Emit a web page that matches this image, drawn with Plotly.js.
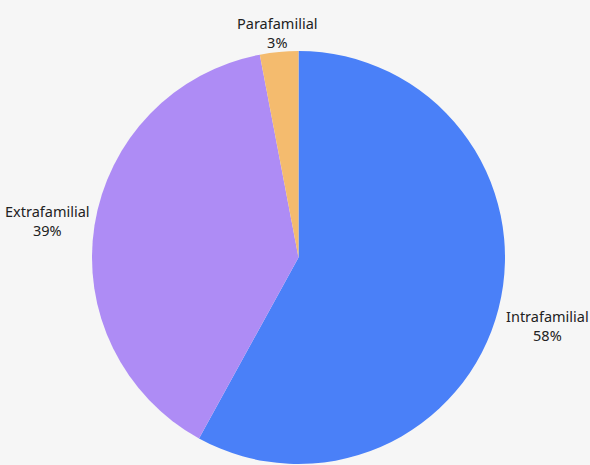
<!DOCTYPE html>
<html>
<head>
<meta charset="utf-8">
<script src="https://cdn.plot.ly/plotly-3.0.1.min.js"></script>
<style>html,body{margin:0;padding:0;background:#f6f6f6;}</style>
</head>
<body>
<div id="chart" style="width:590px;height:465px;"></div>
<script>
const categories = ["Intrafamilial", "Extrafamilial", "Parafamilial"];
const values = [58, 39, 3];
const colors = ["#4a80f8", "#ae8cf5", "#f4bb6e"];

const FONT = "Noto Sans, sans-serif";
const total = values.reduce((a, b) => a + b, 0);

// Outside labels placed at each slice's mid-angle (clockwise from 12 o'clock)
const annotations = [];
let cum = 0;
values.forEach((v, i) => {
  const mid = (cum + v / 2) / total * 2 * Math.PI;
  cum += v;
  const ax = Math.sin(mid), ay = Math.cos(mid);
  const xanchor = ax > 0.5 ? "left" : (ax < -0.5 ? "right" : "center");
  const yanchor = ay > 0.5 ? "bottom" : (ay < -0.2 ? "top" : "middle");
  annotations.push({
    xref: "paper", yref: "paper",
    x: 0.5 + 0.5 * ax, y: 0.5 + 0.5 * ay,
    xanchor: xanchor, yanchor: yanchor,
    xshift: xanchor === "left" ? 5 : (xanchor === "right" ? -3 : -2),
    yshift: yanchor === "bottom" ? -2 : 5,
    showarrow: false,
    align: "center",
    text: categories[i] + "<br>" + Math.round(v / total * 100) + "%",
    font: {family: FONT, size: 14.5, color: "#222"}
  });
});

Plotly.newPlot("chart", [{
  type: "pie",
  labels: categories,
  values: values,
  sort: false,
  direction: "clockwise",
  rotation: 0,
  marker: {colors: colors, line: {width: 0}},
  textinfo: "none",
  hoverinfo: "label+percent",
  showlegend: false
}], {
  width: 590,
  height: 465,
  paper_bgcolor: "#f6f6f6",
  plot_bgcolor: "#f6f6f6",
  margin: {l: 92, r: 85, t: 51, b: 1},
  font: {family: FONT, size: 14.5, color: "#222"},
  annotations: annotations
}, {displayModeBar: false, staticPlot: true});
</script>
</body>
</html>
